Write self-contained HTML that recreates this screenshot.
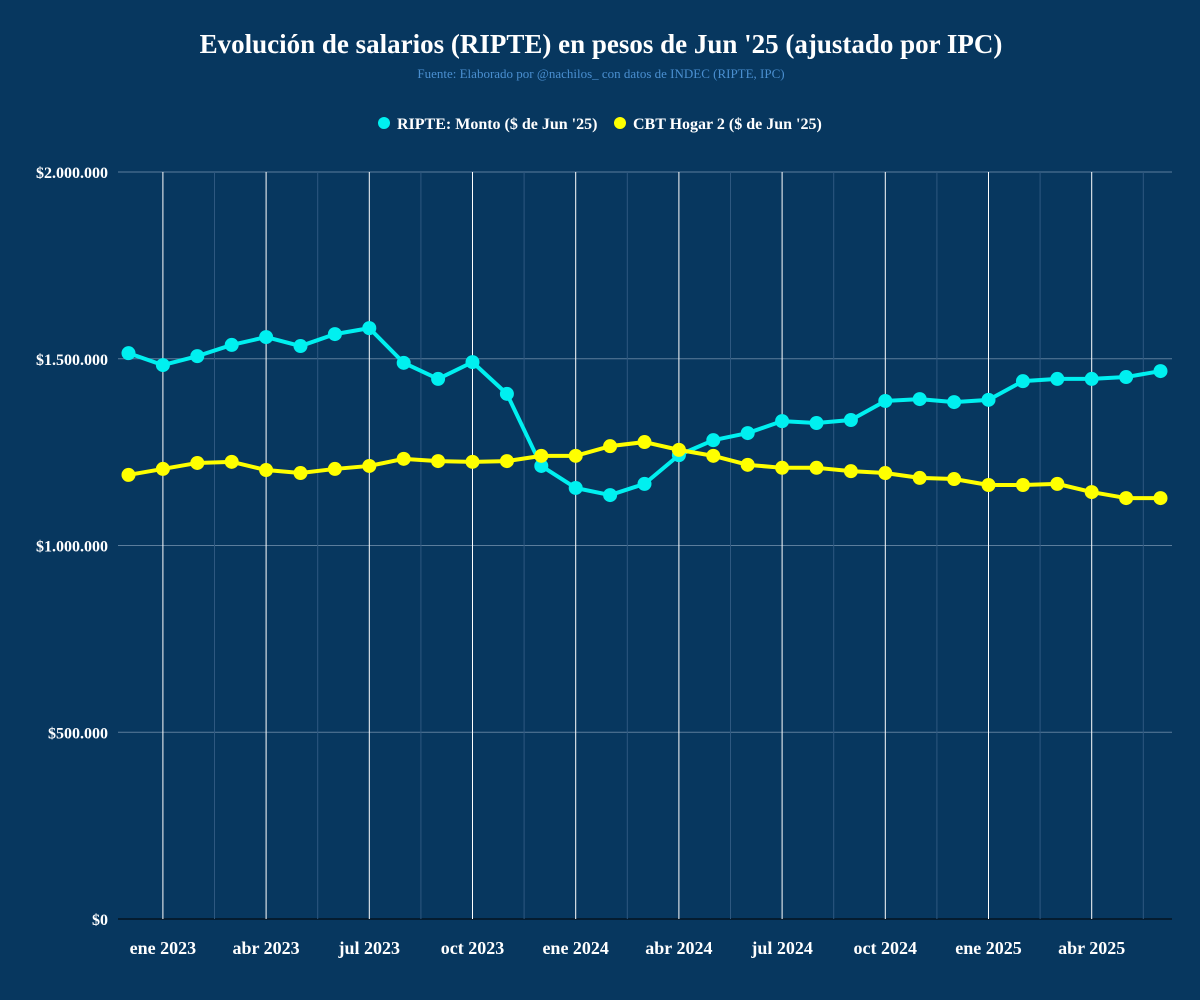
<!DOCTYPE html>
<html><head><meta charset="utf-8">
<style>
body{margin:0;background:#07375f;}
svg{display:block;font-family:"Liberation Serif",serif;}
</style></head>
<body>
<svg id="chart" width="1200" height="1000">
<rect width="1200" height="1000" fill="#07375f"/>
<text x="601" y="53" text-anchor="middle" fill="#fff" font-size="27" font-weight="bold">Evolución de salarios (RIPTE) en pesos de Jun '25 (ajustado por IPC)</text>
<text x="601" y="78" text-anchor="middle" fill="#4a8fd0" font-size="13">Fuente: Elaborado por @nachilos_ con datos de INDEC (RIPTE, IPC)</text>
<g>
<g><circle cx="384" cy="123" r="6" fill="#00f0f0"/><text x="397" y="129" fill="#fff" font-size="16" font-weight="bold">RIPTE: Monto ($ de Jun '25)</text></g>
<g><circle cx="620" cy="123" r="6" fill="#ffff00"/><text x="633" y="129" fill="#fff" font-size="16" font-weight="bold">CBT Hogar 2 ($ de Jun '25)</text></g>
</g>
<g id="grid"></g><g id="axes"></g><g id="series"></g>
</svg>
<script>
const ripteValues = [1515000,1483000,1507000,1537000,1558000,1534000,1566000,1582000,1489000,1446000,1491000,1406000,1213000,1154000,1135000,1165000,1242000,1282000,1301000,1333000,1328000,1336000,1387000,1392000,1384000,1390000,1440000,1446000,1446000,1451000,1467000];
const cbtValues = [1189000,1205000,1221000,1224000,1202000,1194000,1205000,1213000,1232000,1226000,1224000,1226000,1240000,1240000,1266000,1277000,1256000,1240000,1216000,1208000,1208000,1199000,1194000,1181000,1178000,1162000,1162000,1165000,1143000,1127000,1127000];
const yTicks = [0,500000,1000000,1500000,2000000];
const yTickLabels = ["$0","$500.000","$1.000.000","$1.500.000","$2.000.000"];
const xTickIdx = [1,4,7,10,13,16,19,22,25,28];
const xTickLabels = ["ene 2023","abr 2023","jul 2023","oct 2023","ene 2024","abr 2024","jul 2024","oct 2024","ene 2025","abr 2025"];
const NS="http://www.w3.org/2000/svg";
const X0=118,X1=1172,Y0=919,Y1=172;
const x = i => 128.5 + i*34.4;
const y = v => Y0 - (v/2000000)*(Y0-Y1);
function mk(tag,attrs,parent){const e=document.createElementNS(NS,tag);for(const k in attrs)e.setAttribute(k,attrs[k]);parent.appendChild(e);return e;}
const grid=document.getElementById('grid'),axes=document.getElementById('axes'),series=document.getElementById('series');
yTicks.forEach((t,i)=>{
  const l=mk('line',{x1:X0,x2:X1,y1:y(t),y2:y(t),stroke:i===0?'#000':'#5b7d9c','stroke-width':1},grid);
  
  
  const tx=mk('text',{x:108,y:y(t)+6,'text-anchor':'end',fill:'#fff','font-size':16,'font-weight':'bold'},axes);
  tx.textContent=yTickLabels[i];
  
  
});
for(let k=0;k<xTickIdx.length;k++){
  const m=xTickIdx[k]+1.5;
  if(x(m)<X1){
    const ml=mk('line',{x1:x(m),x2:x(m),y1:Y1,y2:Y0,stroke:'#2e5880','stroke-width':1},grid);
    
    
  }
}
xTickIdx.forEach((t,i)=>{
  const l=mk('line',{x1:x(t),x2:x(t),y1:Y1,y2:Y0,stroke:'#fff','stroke-width':1},grid);
  
  
  const tx=mk('text',{x:x(t),y:954,'text-anchor':'middle',fill:'#fff','font-size':18,'font-weight':'bold'},axes);
  tx.textContent=xTickLabels[i];
  
  
});
function drawSeries(vals,color,name){
  const g=mk('g',{},series);
  
  
  const p=mk('polyline',{points:vals.map((v,i)=>x(i)+','+y(v)).join(' '),fill:'none',stroke:color,'stroke-width':4,'stroke-linejoin':'round'},g);
  
  
  vals.forEach((v,i)=>{
    const c=mk('circle',{cx:x(i),cy:y(v),r:7,fill:color},g);
    
    
  });
}
drawSeries(ripteValues,'#00f0f0','ripte');
drawSeries(cbtValues,'#ffff00','cbt');
</script>
</body></html>
